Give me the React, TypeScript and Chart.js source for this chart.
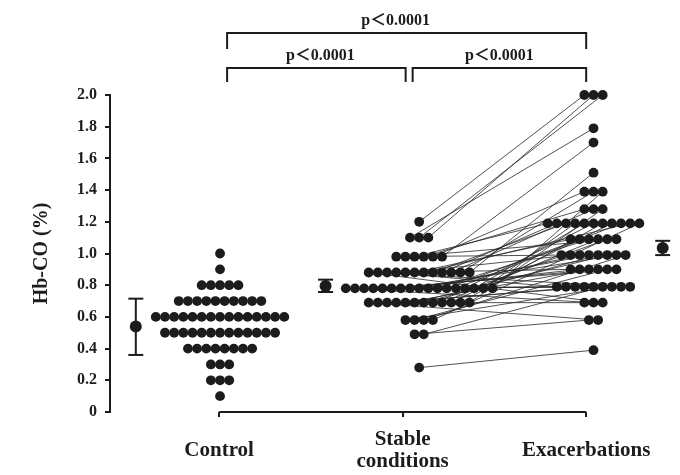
import React, { useEffect, useRef } from 'react';
import { Chart, registerables } from 'chart.js';

Chart.register(...registerables);

// ---------------- DATA ----------------
const CATEGORY_LABELS: (string | string[])[] = ['Control', ['Stable', 'conditions'], 'Exacerbations'];
const Y_TICKS = [0, 0.2, 0.4, 0.6, 0.8, 1.0, 1.2, 1.4, 1.6, 1.8, 2.0];
const Y_TITLE = 'Hb-CO (%)';
const P_LABELS = ['p＜0.0001', 'p＜0.0001', 'p＜0.0001'];

// Control group: dot rows (value level) and number of dots per row
const CONTROL_LEVELS = [1.0, 0.9, 0.8, 0.7, 0.6, 0.5, 0.4, 0.3, 0.2, 0.1];
const CONTROL_COUNTS = [1, 1, 5, 10, 15, 13, 8, 3, 3, 1];

// Paired patients: stable value -> exacerbation value (same index = same patient)
const STABLE_PAIRED = [
  1.2, 1.1, 1.1,
  1.1,
  0.98,
  0.88,
  0.98, 0.88, 0.78,
  0.98, 0.88, 0.69,
  0.98, 0.88, 0.88, 0.78, 0.78, 0.78, 0.69, 0.69, 0.78, 0.88, 0.58,
  0.88, 0.78, 0.78, 0.69, 0.69, 0.98,
  0.98, 0.88, 0.78, 0.78, 0.69, 0.69, 0.78, 0.58,
  0.88, 0.78, 0.69, 0.78, 0.58, 0.78,
  0.88, 0.78, 0.78, 0.69, 0.69, 0.49, 0.58, 0.78, 0.88,
  0.69, 0.78, 0.88,
  0.49, 0.69,
  0.28,
];
const EXAC_PAIRED = [
  2.0, 2.0, 2.0,
  1.79,
  1.70,
  1.51,
  1.39, 1.39, 1.39,
  1.28, 1.28, 1.28,
  1.19, 1.19, 1.19, 1.19, 1.19, 1.19, 1.19, 1.19, 1.19, 1.19, 1.19,
  1.09, 1.09, 1.09, 1.09, 1.09, 1.09,
  0.99, 0.99, 0.99, 0.99, 0.99, 0.99, 0.99, 0.99,
  0.90, 0.90, 0.90, 0.90, 0.90, 0.90,
  0.79, 0.79, 0.79, 0.79, 0.79, 0.79, 0.79, 0.79, 0.79,
  0.69, 0.69, 0.69,
  0.58, 0.58,
  0.39,
];

// Group mean and ±SD
const MEANS = [0.54, 0.795, 1.035];
const SD_LOW = [0.36, 0.757, 0.99];
const SD_HIGH = [0.715, 0.835, 1.08];

// ---------------- LAYOUT ----------------
const CAT_X = [1, 2, 3];
const X_MIN = 0.4054;
const X_MAX = 3.4595;
const COL_CENTER = [1.005, 2.09, 3.04];
const MEAN_X = [1 - 0.454, 2 - 0.42, 3 + 0.417];
const DOT_STEP = 0.05;
const INK = '#1c1c1c';
const SERIF = '"Liberation Serif", "Times New Roman", serif';

type Pt = { x: number; y: number };

function rowPositions(values: number[], center: number, fromRight: boolean): Pt[] {
  const counts = new Map<number, number>();
  values.forEach((v) => counts.set(v, (counts.get(v) || 0) + 1));
  const seen = new Map<number, number>();
  return values.map((v) => {
    const n = counts.get(v)!;
    const k = seen.get(v) || 0;
    seen.set(v, k + 1);
    const slot = fromRight ? (n - 1) / 2 - k : k - (n - 1) / 2;
    return { x: center + slot * DOT_STEP, y: v };
  });
}

function buildControl(): Pt[] {
  const pts: Pt[] = [];
  CONTROL_LEVELS.forEach((lv, i) => {
    const n = CONTROL_COUNTS[i];
    for (let k = 0; k < n; k++) {
      pts.push({ x: COL_CENTER[0] + (k - (n - 1) / 2) * DOT_STEP, y: lv });
    }
  });
  return pts;
}

const bracketPlugin = {
  id: 'brackets',
  afterDraw(chart: any) {
    const { ctx, scales } = chart;
    const x = scales.x;
    const y = scales.y;
    ctx.save();
    ctx.strokeStyle = INK;
    ctx.lineWidth = 2;
    // x-axis baseline between first and last category
    const y0 = y.getPixelForValue(0);
    ctx.beginPath();
    ctx.moveTo(x.getPixelForValue(CAT_X[0]), y0);
    ctx.lineTo(x.getPixelForValue(CAT_X[2]), y0);
    ctx.stroke();

    const a = x.getPixelForValue(CAT_X[0]) + 8;
    const m1 = x.getPixelForValue(CAT_X[1]) + 3;
    const m2 = x.getPixelForValue(CAT_X[1]) + 10;
    const b = x.getPixelForValue(CAT_X[2]);
    const brackets = [
      { l: a, r: b, top: 33, bottom: 49, ty: 25, dx: -11 },
      { l: a, r: m1, top: 68, bottom: 82, ty: 60, dx: 4 },
      { l: m2, r: b, top: 68, bottom: 82, ty: 60, dx: 0 },
    ];
    ctx.font = `bold 16px ${SERIF}, "Noto Sans CJK JP"`;
    ctx.fillStyle = INK;
    ctx.textAlign = 'center';
    ctx.textBaseline = 'alphabetic';
    brackets.forEach((br, i) => {
      ctx.beginPath();
      ctx.moveTo(br.l, br.bottom);
      ctx.lineTo(br.l, br.top);
      ctx.lineTo(br.r, br.top);
      ctx.lineTo(br.r, br.bottom);
      ctx.stroke();
      ctx.fillText(P_LABELS[i], (br.l + br.r) / 2 + br.dx, br.ty);
    });
    ctx.restore();
  },
};

export default function App() {
  const ref = useRef<HTMLCanvasElement>(null);

  useEffect(() => {
    const control = buildControl();
    const stable = rowPositions(STABLE_PAIRED, COL_CENTER[1], true);
    const exac = rowPositions(EXAC_PAIRED, COL_CENTER[2], false);

    const lineSets = stable.map((s, i) => ({
      data: [s, exac[i]],
      showLine: true,
      borderColor: '#262626',
      borderWidth: 0.8,
      pointRadius: 0,
      order: 10,
      clip: false as any,
    }));

    const errorSets = MEANS.map((_, i) => ({
      data: [
        { x: MEAN_X[i], y: SD_LOW[i] },
        { x: MEAN_X[i], y: SD_HIGH[i] },
      ],
      showLine: true,
      borderColor: INK,
      borderWidth: 2,
      pointStyle: 'line' as const,
      pointRadius: 7.5,
      pointBorderWidth: 2,
      pointBorderColor: INK,
      order: 2,
      clip: false as any,
    }));

    const chart = new Chart(ref.current!, {
      type: 'scatter',
      data: {
        datasets: [
          {
            data: [...control, ...stable, ...exac],
            backgroundColor: INK,
            borderColor: INK,
            borderWidth: 0,
            pointRadius: 4.9,
            order: 0,
            clip: false as any,
          },
          {
            data: MEANS.map((m, i) => ({ x: MEAN_X[i], y: m })),
            backgroundColor: INK,
            borderColor: INK,
            borderWidth: 0,
            pointRadius: 6,
            order: 0,
            clip: false as any,
          },
          ...errorSets,
          ...lineSets,
        ] as any,
      },
      options: {
        animation: false,
        responsive: true,
        maintainAspectRatio: false,
        layout: { padding: { top: 95, right: 5, bottom: 0, left: 0 } },
        plugins: { legend: { display: false }, tooltip: { enabled: false } },
        scales: {
          x: {
            type: 'linear',
            min: X_MIN,
            max: X_MAX,
            afterBuildTicks: (s: any) => {
              s.ticks = CAT_X.map((v) => ({ value: v }));
            },
            afterFit: (s: any) => {
              s.height = 63;
            },
            border: { display: false },
            grid: {
              display: true,
              drawOnChartArea: false,
              drawTicks: true,
              tickLength: 5,
              color: INK,
              lineWidth: 2,
            },
            ticks: {
              autoSkip: false,
              maxRotation: 0,
              padding: 23,
              crossAlign: 'center',
              color: INK,
              font: { family: SERIF, weight: 'bold', size: 21, lineHeight: 1.05 },
              callback: (v: any) => {
                const i = CAT_X.indexOf(Number(v));
                return i >= 0 ? (CATEGORY_LABELS[i] as any) : '';
              },
            },
          },
          y: {
            min: 0,
            max: 2.0,
            afterBuildTicks: (s: any) => {
              s.ticks = Y_TICKS.map((v) => ({ value: v }));
            },
            afterFit: (s: any) => {
              s.width = 110;
            },
            border: { display: true, color: INK, width: 2 },
            grid: {
              display: true,
              drawOnChartArea: false,
              drawTicks: true,
              tickLength: 5,
              color: INK,
              lineWidth: 2,
            },
            ticks: {
              padding: 8,
              color: INK,
              font: { family: SERIF, weight: 'bold', size: 16 },
              callback: (v: any) => (Number(v) === 0 ? '0' : Number(v).toFixed(1)),
            },
            title: {
              display: true,
              text: Y_TITLE,
              color: INK,
              font: { family: SERIF, weight: 'bold', size: 20 },
              padding: { top: 30, bottom: 0 },
            },
          },
        },
      } as any,
      plugins: [bracketPlugin],
    });
    return () => chart.destroy();
  }, []);

  return (
    <div style={{ position: 'absolute', left: 0, top: 0, width: 680, height: 475, background: '#fff' }}>
      <canvas ref={ref} />
    </div>
  );
}
